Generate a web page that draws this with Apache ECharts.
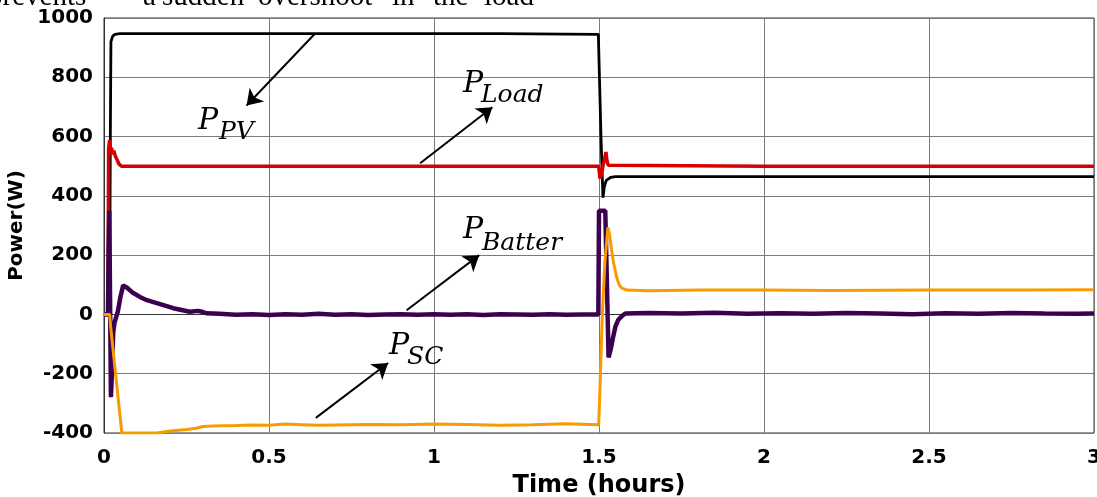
<!DOCTYPE html>
<html>
<head>
<meta charset="utf-8">
<script src="https://cdn.jsdelivr.net/npm/echarts@6/dist/echarts.min.js"></script>
<style>
    html, body { margin: 0; padding: 0; background: #fff; }
    #power { width: 1097px; height: 497px; }
</style>
</head>
<body>
<div id="power"></div>
<script>
// 坐标轴刻度
var xTicks = [0, 0.5, 1, 1.5, 2, 2.5, 3];
var yTicks = [-400, -200, 0, 200, 400, 600, 800, 1000];

// P_PV
var pvTime  = [0, 0.017, 0.019, 0.021, 0.026, 0.033, 0.048, 0.3, 0.6, 0.9, 1.2, 1.498, 1.506, 1.512, 1.516, 1.522, 1.535, 1.55, 2.0, 2.5, 3.0];
var pvPower = [0, 0, 560, 920, 938, 945, 947, 947, 947, 947, 947, 945, 600, 394, 430, 452, 462, 465, 465, 465, 465];

// P_Load
var loadTime  = [0, 0.012, 0.014, 0.017, 0.02, 0.023, 0.026, 0.03, 0.034, 0.038, 0.045, 0.053, 0.5, 1.0, 1.499, 1.503, 1.507, 1.512, 1.517, 1.521, 1.524, 1.528, 1.533, 2.0, 2.5, 3.0];
var loadPower = [0, 0, 560, 588, 546, 562, 540, 552, 535, 540, 508, 500, 500, 500, 500, 458, 470, 500, 525, 548, 520, 503, 500, 500, 500, 500];

// P_Battery
var batTime  = [0, 0.012, 0.014, 0.016, 0.018, 0.021, 0.024, 0.028, 0.032, 0.036, 0.042, 0.05, 0.058, 0.063, 0.07, 0.085, 0.109, 0.13, 0.16, 0.21, 0.26, 0.285, 0.3, 0.31, 0.35, 0.4, 0.45, 0.5, 0.55, 0.6, 0.65, 0.7, 0.75, 0.8, 0.85, 0.9, 0.95, 1.0, 1.05, 1.1, 1.15, 1.2, 1.25, 1.3, 1.35, 1.4, 1.45, 1.498, 1.5, 1.519, 1.529, 1.535, 1.543, 1.55, 1.558, 1.57, 1.58, 1.65, 1.75, 1.85, 1.95, 2.05, 2.15, 2.25, 2.35, 2.45, 2.55, 2.65, 2.75, 2.85, 2.95, 3.0];
var batPower = [0, 0, 200, 350, 100, -279, -200, -60, -28, -30, 10, 60, 98, 100, 90, 75, 59, 48, 38, 21, 9, 12, 8, 4, 2, -1, 1, -2, 1, -1, 2, -1, 1, -2, 0, 1, -1, 1, -1, 1, -2, 1, 0, -1, 1, -1, 0, 0, 350, 350, -145, -120, -75, -40, -19, -5, 3, 5, 3, 6, 2, 4, 2, 5, 3, 1, 4, 2, 5, 3, 2, 3];

// P_SC
var scTime  = [0, 0.017, 0.02, 0.054, 0.16, 0.2, 0.25, 0.28, 0.3, 0.33, 0.4, 0.45, 0.5, 0.55, 0.6, 0.65, 0.7, 0.8, 0.9, 1.0, 1.1, 1.2, 1.3, 1.4, 1.499, 1.503, 1.51, 1.518, 1.527, 1.532, 1.538, 1.545, 1.553, 1.561, 1.569, 1.585, 1.65, 1.8, 2.0, 2.2, 2.5, 2.8, 3.0];
var scPower = [0, 0, -40, -400, -400, -393, -388, -384, -378, -376, -375, -373, -374, -370, -372, -374, -373, -371, -372, -370, -371, -374, -372, -369, -372, -250, 0, 180, 294, 270, 217, 170, 127, 100, 89, 82, 80, 82, 82, 81, 82, 82, 83];

// 箭头 [起点, 终点]
var arrowStart = [[0.639, 947], [0.958, 510], [0.917, 14], [0.642, -349]];
var arrowEnd   = [[0.432, 705], [1.177, 699], [1.137, 200], [0.861, -164]];

function pairs(t, v) {
    var out = [];
    for (var i = 0; i < t.length; i++) {
        out.push([t[i], v[i]]);
    }
    return out;
}

// 初始化echarts
function initEcharts() {
    var myChart = echarts.init(document.getElementById("power"));
    var arrows = [];
    for (var i = 0; i < arrowStart.length; i++) {
        arrows.push([{ coord: arrowStart[i] }, { coord: arrowEnd[i] }]);
    }

    var serif = 'DejaVu Serif';
    var italic = function (txt, x, y, size, w) {
        var el = {
            type: 'text',
            x: x,
            y: y,
            z: 100,
            style: {
                text: txt,
                fontFamily: serif,
                fontStyle: 'italic',
                fontSize: size,
                fill: '#000',
                verticalAlign: 'middle'
            }
        };
        if (w) {
            el.style.width = w;
            el.style.overflow = 'truncate';
            el.style.ellipsis = '';
        }
        return el;
    };
    var word = function (txt, x) {
        return {
            type: 'text', x: x, y: -3,
            style: { text: txt, fontFamily: 'Liberation Serif', fontSize: 29, fill: '#000', verticalAlign: 'middle' }
        };
    };

    var option = {
        animation: false,
        grid: {
            left: 104,
            right: 3,
            top: 18,
            bottom: 64,
            outerBoundsMode: 'none',
            containLabel: false,
            show: true,
            borderColor: '#333',
            borderWidth: 1
        },
        xAxis: {
            type: 'value',
            min: xTicks[0],
            max: xTicks[xTicks.length - 1],
            interval: 0.5,
            name: 'Time (hours)',
            nameLocation: 'middle',
            nameGap: 41,
            nameTextStyle: { fontFamily: 'DejaVu Sans', fontWeight: 'bold', fontSize: 24, color: '#000' },
            axisLine: { lineStyle: { color: '#333' } },
            axisTick: { show: false },
            axisLabel: { fontFamily: 'DejaVu Sans', fontWeight: 'bold', fontSize: 20, color: '#000', margin: 15 },
            splitLine: { lineStyle: { color: '#7a7a7a' } }
        },
        yAxis: {
            type: 'value',
            min: yTicks[0],
            max: yTicks[yTicks.length - 1],
            interval: 200,
            name: 'Power(W)',
            nameLocation: 'middle',
            nameGap: 66,
            nameTextStyle: { fontFamily: 'DejaVu Sans', fontWeight: 'bold', fontSize: 20, color: '#000' },
            axisLine: { show: true, lineStyle: { color: '#333' } },
            axisTick: { show: false },
            axisLabel: {
                fontFamily: 'DejaVu Sans', fontWeight: 'bold', fontSize: 20, color: '#000', margin: 11,
                formatter: function (v) { return String(v); }
            },
            splitLine: { lineStyle: { color: '#7a7a7a' } }
        },
        series: [
            {
                name: 'P_PV', type: 'line', showSymbol: false,
                data: pairs(pvTime, pvPower),
                lineStyle: { color: '#000', width: 2.8 }
            },
            {
                name: 'P_Load', type: 'line', showSymbol: false,
                data: pairs(loadTime, loadPower),
                lineStyle: { color: '#d60000', width: 3.5 }
            },
            {
                name: 'P_Battery', type: 'line', showSymbol: false,
                data: pairs(batTime, batPower),
                lineStyle: { color: '#3c0050', width: 4.5 }
            },
            {
                name: 'P_SC', type: 'line', showSymbol: false,
                data: pairs(scTime, scPower),
                lineStyle: { color: '#f79c00', width: 3 }
            },
            {
                name: 'arrows', type: 'line', data: [], z: 10,
                markLine: {
                    silent: true,
                    symbol: ['none', 'arrow'],
                    symbolSize: 15,
                    label: { show: false },
                    lineStyle: { color: '#000', width: 2, type: 'solid' },
                    data: arrows
                }
            }
        ],
        graphic: [
            // 上方截断的正文
            word('prevents', -12),
            word('a', 143),
            word('sudden', 162),
            word('overshoot', 258),
            word('in', 392),
            word('the', 433),
            word('load', 484),
            // 曲线标注
            italic('P', 198, 121, 30),
            italic('PV', 219, 132, 25),
            italic('P', 463, 84, 30),
            italic('Load', 481, 95, 25),
            italic('P', 463, 230, 30),
            italic('Battery', 482, 243, 25, 90),
            italic('P', 389, 346, 30),
            italic('SC', 407, 357, 25)
        ]
    };

    myChart.setOption(option);
    resize(myChart);
}

// 响应式
function resize(echart) {
    window.onresize = function() {
        echart.resize();
    }
}

initEcharts();
</script>
</body>
</html>
